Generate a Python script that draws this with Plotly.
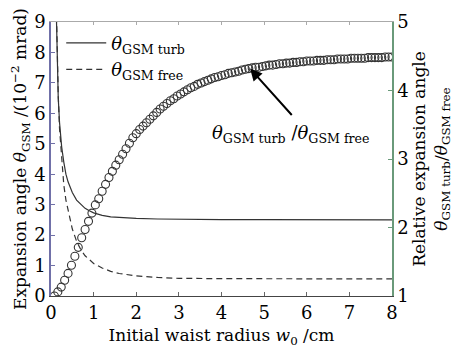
import plotly.graph_objects as go

# Ratio curve (right axis), sampled every 0.08 cm
ratio_w = [round(0.08 * k, 2) for k in range(1, 101)]
ratio = [1.00, 1.06, 1.13, 1.23, 1.33, 1.45, 1.58, 1.71, 1.85, 1.97,
         2.09, 2.21, 2.33, 2.42, 2.53, 2.63, 2.73, 2.82, 2.91, 2.99,
         3.07, 3.15, 3.23, 3.31, 3.37, 3.43, 3.48, 3.53, 3.58, 3.63,
         3.68, 3.73, 3.77, 3.81, 3.85, 3.88, 3.92, 3.95, 3.98, 4.01,
         4.04, 4.06, 4.09, 4.11, 4.13, 4.15, 4.17, 4.19, 4.20, 4.22,
         4.23, 4.25, 4.26, 4.27, 4.28, 4.30, 4.31, 4.32, 4.33, 4.34,
         4.34, 4.35, 4.36, 4.37, 4.37, 4.38, 4.39, 4.39, 4.40, 4.40,
         4.41, 4.41, 4.42, 4.42, 4.43, 4.43, 4.43, 4.44, 4.44, 4.44,
         4.45, 4.45, 4.45, 4.46, 4.46, 4.46, 4.46, 4.47, 4.47, 4.47,
         4.47, 4.47, 4.48, 4.48, 4.48, 4.48, 4.48, 4.49, 4.49, 4.49]

# Expansion angles (left axis)
turb_w = [0.11, 0.13, 0.15, 0.17, 0.20, 0.25, 0.30, 0.35, 0.40, 0.50, 0.60,
          0.70, 0.80, 0.90, 1.00, 1.20, 1.40, 1.60, 1.80, 2.00, 2.50, 3.00,
          4.00, 5.00, 6.00, 7.00, 8.00]
turb = [10.2, 9.0, 7.5, 6.5, 5.7, 4.9, 4.4, 4.0, 3.75, 3.4, 3.15,
        3.0, 2.88, 2.80, 2.73, 2.65, 2.60, 2.58, 2.56, 2.55, 2.53, 2.52,
        2.51, 2.51, 2.50, 2.50, 2.50]

free_w = [0.11, 0.13, 0.15, 0.17, 0.20, 0.25, 0.30, 0.35, 0.40, 0.50, 0.60,
          0.70, 0.80, 0.90, 1.00, 1.20, 1.40, 1.60, 1.80, 2.00, 2.50, 3.00,
          4.00, 5.00, 6.00, 7.00, 8.00]
free = [10.5, 9.0, 7.6, 6.6, 5.5, 4.4, 3.65, 3.15, 2.8, 2.2, 1.8,
        1.52, 1.32, 1.18, 1.07, 0.92, 0.81, 0.74, 0.69, 0.66, 0.61, 0.58,
        0.57, 0.57, 0.56, 0.56, 0.56]

x_ticks = [0, 1, 2, 3, 4, 5, 6, 7, 8]
left_ticks = [0, 1, 2, 3, 4, 5, 6, 7, 8, 9]
right_ticks = [1, 2, 3, 4, 5]

FONT = "DejaVu Serif"
INK = "#333333"
TS = 17   # title size
KS = 18   # tick size

fig = go.Figure()
fig.add_trace(go.Scatter(x=turb_w, y=turb, mode="lines",
                         line=dict(color=INK, width=1.2),
                         name="<i>θ</i><sub>GSM turb</sub>"))
fig.add_trace(go.Scatter(x=free_w, y=free, mode="lines",
                         line=dict(color=INK, width=1.2, dash="6px,4px"),
                         name="<i>θ</i><sub>GSM free</sub>"))
fig.add_trace(go.Scatter(x=ratio_w, y=ratio, mode="markers", yaxis="y2",
                         marker=dict(symbol="circle-open", size=8,
                                     color=INK, line=dict(width=1.1)),
                         showlegend=False))

fig.add_annotation(x=4.67, y=4.32, xref="x", yref="y2", text="",
                   showarrow=True, ax=5.68, ay=3.62, axref="x", ayref="y2",
                   arrowhead=2, arrowsize=1.2, arrowwidth=2, arrowcolor="black")
fig.add_annotation(x=5.62, y=3.36, xref="x", yref="y2",
                   text="<i>θ</i><sub>GSM turb</sub> /<i>θ</i><sub>GSM free</sub>",
                   showarrow=False, font=dict(family=FONT, size=18, color="black"))

fig.update_layout(
    width=460, height=353,
    margin=dict(l=51, r=68, t=11, b=55),
    paper_bgcolor="white", plot_bgcolor="white",
    font=dict(family=FONT, size=KS, color="black"),
    showlegend=True,
    legend=dict(x=0.03, y=0.99, xanchor="left", yanchor="top",
                bgcolor="rgba(0,0,0,0)", font=dict(family=FONT, size=18),
                itemwidth=40, tracegroupgap=0),
    xaxis=dict(range=[0, 8], tickvals=x_ticks, ticks="inside", ticklen=4,
               tickcolor="#666", showgrid=False, zeroline=False,
               showline=True, linecolor="#444", linewidth=1.2, mirror=False,
               ticklabeloverflow="allow",
               title=dict(text="Initial waist radius <i>w</i><sub>0</sub> /cm",
                          font=dict(family=FONT, size=TS), standoff=7),
               tickfont=dict(family=FONT, size=KS)),
    xaxis2=dict(range=[0, 8], overlaying="x", side="top", showline=True,
                linecolor="#aaaaaa", linewidth=1, ticks="inside", ticklen=3,
                tickcolor="#aaa", tickvals=x_ticks, showticklabels=False,
                showgrid=False, zeroline=False),
    yaxis=dict(range=[0, 9], tickvals=left_ticks, ticks="inside", ticklen=4,
               tickcolor="#7070a8", showgrid=False, zeroline=False,
               showline=True, linecolor="#7070a8", linewidth=1.5,
               ticklabeloverflow="allow",
               title=dict(text="Expansion angle <i>θ</i><sub>GSM</sub> /(10<sup>−2</sup> mrad)",
                          font=dict(family=FONT, size=TS), standoff=3),
               tickfont=dict(family=FONT, size=KS)),
    yaxis2=dict(range=[1, 5], tickvals=right_ticks, overlaying="y", side="right",
                ticks="inside", ticklen=4, tickcolor="#6a9a7a",
                showgrid=False, zeroline=False, showline=True,
                linecolor="#6a9a7a", linewidth=1.5,
                ticklabeloverflow="allow",
                title=dict(text="Relative expansion angle<br><i>θ</i><sub>GSM turb</sub>/<i>θ</i><sub>GSM free</sub>",
                           font=dict(family=FONT, size=TS), standoff=3),
                tickfont=dict(family=FONT, size=KS)),
)
# invisible trace so the top axis frame is drawn
fig.add_trace(go.Scatter(x=[0], y=[0], xaxis="x2", mode="markers",
                         marker=dict(opacity=0), showlegend=False, hoverinfo="skip"))

fig.write_html("out.html")
